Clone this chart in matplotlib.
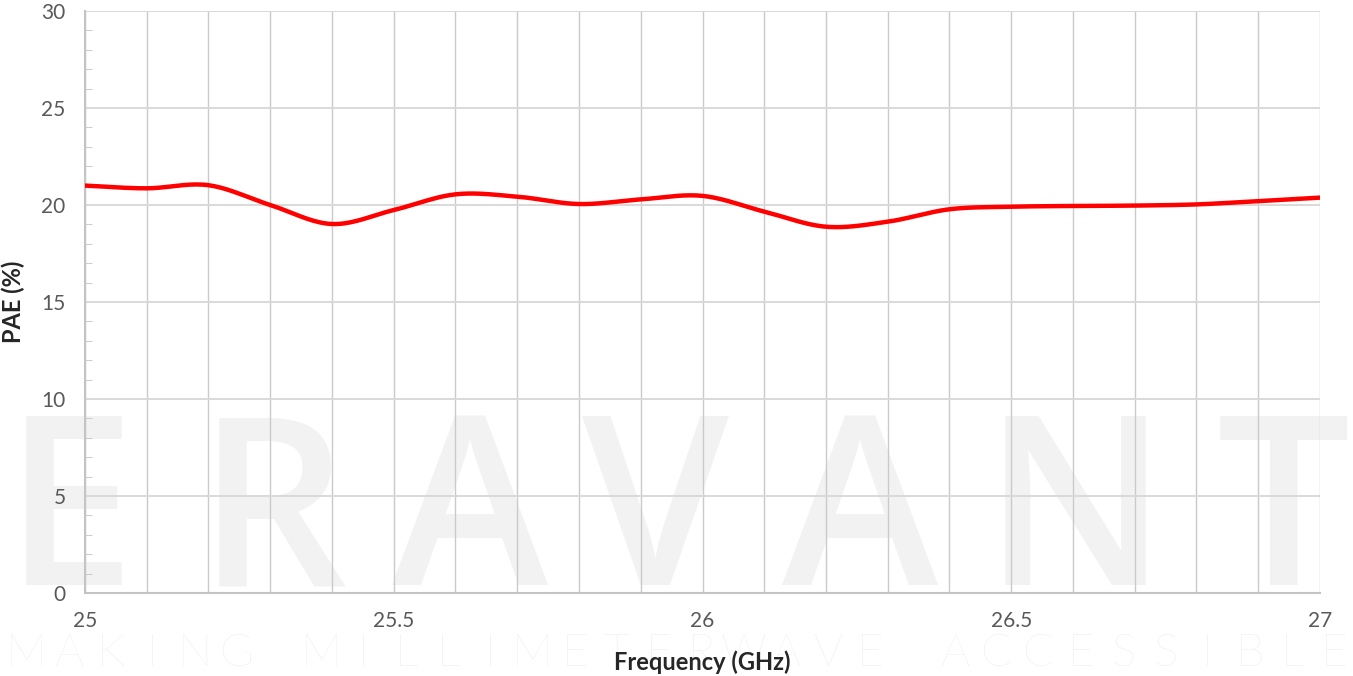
import numpy as np
import matplotlib.pyplot as plt
from matplotlib.ticker import MultipleLocator

# PAE vs frequency
freq = [25.0, 25.1, 25.2, 25.3, 25.4, 25.5, 25.6, 25.7, 25.8, 25.9, 26.0,
        26.1, 26.2, 26.3, 26.4, 26.5, 26.6, 26.7, 26.8, 26.9, 27.0]
pae = [21.0, 20.86, 21.02, 20.0, 19.02, 19.74, 20.55, 20.43, 20.05, 20.29, 20.47,
       19.66, 18.88, 19.14, 19.78, 19.91, 19.95, 19.97, 20.03, 20.2, 20.38]
xticks = [25, 25.5, 26, 26.5, 27]
yticks = [0, 5, 10, 15, 20, 25, 30]
brand = "ERAVANT"
brand_x = [70, 272, 470, 655, 860, 1075, 1283]
tagline = "MAKING MILLIMETERWAVE ACCESSIBLE"


def smooth(x, y, n=20):
    # catmull-rom, like excel's smoothed line
    x = np.asarray(x, float)
    y = np.asarray(y, float)
    px = np.concatenate([[2 * x[0] - x[1]], x, [2 * x[-1] - x[-2]]])
    py = np.concatenate([[2 * y[0] - y[1]], y, [2 * y[-1] - y[-2]]])
    t = np.linspace(0, 1, n, endpoint=False)[:, None]
    out_x, out_y = [], []
    for i in range(1, len(px) - 2):
        for p, o in ((px, out_x), (py, out_y)):
            p0, p1, p2, p3 = p[i - 1], p[i], p[i + 1], p[i + 2]
            o.append((0.5 * (2 * p1 + (-p0 + p2) * t + (2 * p0 - 5 * p1 + 4 * p2 - p3) * t ** 2
                             + (-p0 + 3 * p1 - 3 * p2 + p3) * t ** 3)).ravel())
    return np.concatenate(out_x + [[x[-1]]]), np.concatenate(out_y + [[y[-1]]])


fig = plt.figure(figsize=(13.53, 6.76), dpi=100)
W, H = 1353, 676

# watermark
for ch, cx in zip(brand, brand_x):
    fig.text(cx / W, 1 - 585 / H, ch, ha='center', va='baseline', fontsize=170,
             family='Open Sans', fontweight='semibold', color='#f2f2f2', zorder=-5)
for i, ch in enumerate(tagline):
    fig.text((26 + i * 42.2) / W, 2 / H, ch, ha='center', va='bottom',
             fontsize=33, family='Lato', fontweight='light', color='#ebebeb', zorder=-5)

ax = fig.add_axes([85 / W, 1 - 593 / H, 1235 / W, 582 / H])
ax.set_facecolor('none')

sx, sy = smooth(freq, pae)
ax.plot(sx, sy, color='#ff0000', lw=3.2, solid_capstyle='round', zorder=3)

ax.set_xlim(25, 27)
ax.set_ylim(0, 30)
ax.set_xticks(xticks)
ax.set_xticklabels([str(v) for v in xticks])
ax.set_yticks(yticks)
ax.xaxis.set_minor_locator(MultipleLocator(0.1))
ax.yaxis.set_minor_locator(MultipleLocator(1))
ax.grid(True, which='both', axis='x', color='#cacaca', lw=1)
ax.grid(True, which='major', axis='y', color='#d9d9d9', lw=1.4)
ax.set_axisbelow(True)

for s in ['top', 'right']:
    ax.spines[s].set_visible(False)
for s in ['left', 'bottom']:
    ax.spines[s].set_color('#c4c4c4')
    ax.spines[s].set_linewidth(1.5)

ax.tick_params(axis='both', which='both', direction='in', color='#c4c4c4',
               labelcolor='#595959', labelsize=15)
for lbl in ax.get_xticklabels() + ax.get_yticklabels():
    lbl.set_family('Lato')
ax.tick_params(axis='x', which='both', length=0, pad=13)
ax.tick_params(axis='y', which='major', length=0, pad=14)
ax.tick_params(axis='y', which='minor', length=5)

ax.set_xlabel('Frequency (GHz)', fontsize=17, fontweight='bold', family='Lato',
              color='#262626', labelpad=14)
ax.set_ylabel('PAE (%)', fontsize=17, fontweight='bold', family='Lato',
              color='#262626', labelpad=12)

fig.savefig('out.png', dpi=100)
